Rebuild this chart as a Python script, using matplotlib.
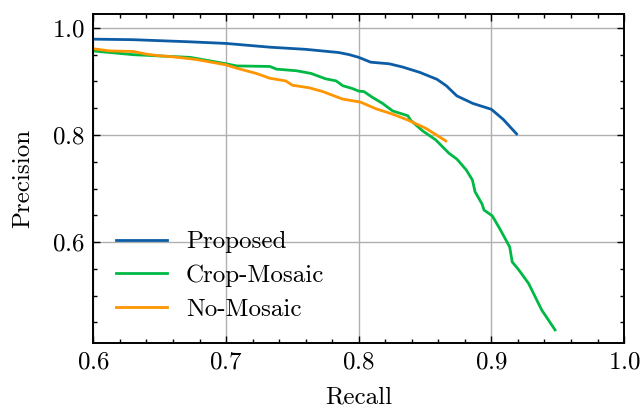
import matplotlib
matplotlib.use("Agg")
import matplotlib.pyplot as plt
from matplotlib.ticker import MultipleLocator

# precision-recall points
proposed_recall = [0.600, 0.630, 0.673, 0.700, 0.733, 0.760, 0.785, 0.793, 0.800,
                   0.809, 0.823, 0.833, 0.846, 0.859, 0.866, 0.874, 0.886, 0.900,
                   0.909, 0.919]
proposed_prec = [0.979, 0.978, 0.974, 0.971, 0.964, 0.960, 0.954, 0.950, 0.945,
                 0.936, 0.933, 0.927, 0.917, 0.904, 0.892, 0.873, 0.859, 0.848,
                 0.829, 0.802]

crop_recall = [0.600, 0.630, 0.673, 0.700, 0.708, 0.733, 0.738, 0.753, 0.764,
               0.775, 0.783, 0.788, 0.795, 0.800, 0.804, 0.8105, 0.818, 0.8255,
               0.837, 0.839, 0.848, 0.858, 0.868, 0.874, 0.881, 0.8857, 0.8877,
               0.893, 0.8944, 0.9007, 0.907, 0.9138, 0.9157, 0.9207, 0.928,
               0.938, 0.948]
crop_prec = [0.957, 0.950, 0.945, 0.933, 0.929, 0.928, 0.923, 0.920, 0.915,
             0.905, 0.901, 0.892, 0.887, 0.882, 0.881, 0.870, 0.859, 0.845,
             0.836, 0.828, 0.808, 0.791, 0.766, 0.755, 0.735, 0.716, 0.694,
             0.671, 0.660, 0.649, 0.622, 0.591, 0.563, 0.548, 0.523,
             0.473, 0.436]

nomosaic_recall = [0.600, 0.6125, 0.630, 0.640, 0.6495, 0.660, 0.6777, 0.700,
                   0.7077, 0.7228, 0.733, 0.745, 0.750, 0.763, 0.773, 0.788,
                   0.800, 0.8017, 0.813, 0.8255, 0.837, 0.8506, 0.8656]
nomosaic_prec = [0.961, 0.957, 0.956, 0.951, 0.948, 0.946, 0.941, 0.931,
                 0.925, 0.915, 0.906, 0.901, 0.893, 0.888, 0.881, 0.867,
                 0.862, 0.861, 0.849, 0.839, 0.828, 0.8125, 0.789]

labels = ["Proposed", "Crop-Mosaic", "No-Mosaic"]
colors = ["#0C5DA5", "#00B945", "#FF9500"]

plt.rcParams["font.family"] = ["cmr10", "DejaVu Serif"]
plt.rcParams["mathtext.fontset"] = "cm"
plt.rcParams["axes.formatter.use_mathtext"] = True
plt.rcParams["font.size"] = 18

fig = plt.figure(figsize=(6.43, 4.09), dpi=100)
ax = fig.add_axes([0.1453, 0.1606, 0.8252, 0.8052])

ax.plot(proposed_recall, proposed_prec, color=colors[0], linewidth=2.0, label=labels[0])
ax.plot(crop_recall, crop_prec, color=colors[1], linewidth=2.0, label=labels[1])
ax.plot(nomosaic_recall, nomosaic_prec, color=colors[2], linewidth=2.0, label=labels[2])

ax.set_xlim(0.6, 1.0)
ax.set_ylim(0.411, 1.026)

ax.xaxis.set_major_locator(MultipleLocator(0.1))
ax.xaxis.set_minor_locator(MultipleLocator(0.02))
ax.yaxis.set_major_locator(MultipleLocator(0.2))
ax.yaxis.set_minor_locator(MultipleLocator(0.05))

ax.tick_params(which="both", direction="in", top=True, right=True, width=1.0)
ax.tick_params(which="major", length=5, pad=6)
ax.tick_params(which="minor", length=3)
for s in ax.spines.values():
    s.set_linewidth(1.4)

ax.grid(True, which="major", color="#b0b0b0", linewidth=1.0)
ax.set_axisbelow(True)

ax.set_xlabel("Recall", labelpad=9)
ax.set_ylabel("Precision", labelpad=13)

ax.legend(loc="lower left", frameon=False, handlelength=2.05,
          handletextpad=0.75, labelspacing=0.45, borderaxespad=0.5)

fig.savefig("out.png", dpi=100)
